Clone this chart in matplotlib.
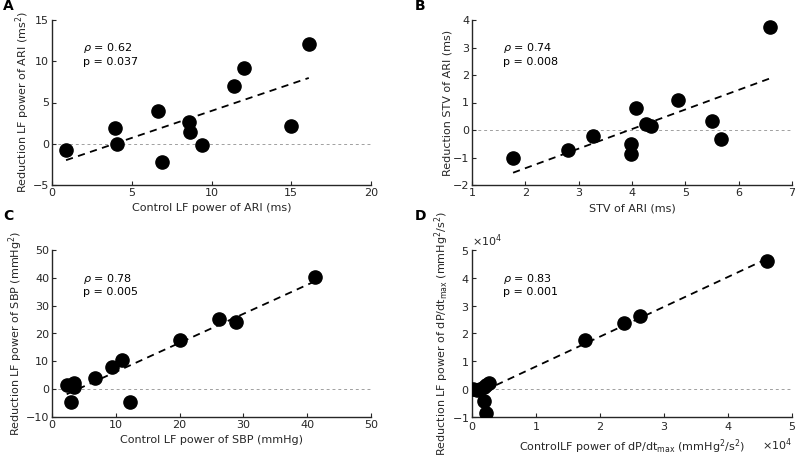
import numpy as np
import matplotlib
matplotlib.use("Agg")
import matplotlib.pyplot as plt
from matplotlib.ticker import ScalarFormatter

# panel A: control LF power of ARI vs reduction
a_x = [0.88, 3.97, 4.1, 6.65, 6.92, 8.6, 8.66, 9.41, 11.38, 12.05, 14.98, 16.1]
a_y = [-0.75, 1.86, -0.08, 4.0, -2.26, 2.6, 1.45, -0.16, 7.03, 9.2, 2.18, 12.04]

# panel B: STV of ARI vs reduction
b_x = [1.77, 2.80, 3.27, 3.99, 3.99, 4.07, 4.27, 4.36, 4.86, 5.50, 5.67, 6.58]
b_y = [-1.03, -0.74, -0.23, -0.50, -0.87, 0.79, 0.23, 0.16, 1.10, 0.33, -0.33, 3.73]

# panel C: LF power of SBP
c_x = [2.3, 2.93, 3.5, 3.5, 6.7, 9.4, 10.9, 12.3, 20.0, 26.2, 28.8, 41.2]
c_y = [1.44, -4.7, 2.3, 0.7, 3.96, 7.8, 10.3, -4.7, 17.6, 25.2, 24.1, 40.3]

# panel D: LF power of dP/dtmax
d_x = np.array([0.02, 0.08, 0.13, 0.18, 0.22, 0.27, 0.18, 0.22, 1.77, 2.37, 2.63, 4.61]) * 1e4
d_y = np.array([0.0, -0.02, 0.02, 0.08, 0.15, 0.22, -0.42, -0.85, 1.76, 2.36, 2.62, 4.59]) * 1e4

stats = [("0.62", "0.037"), ("0.74", "0.008"), ("0.78", "0.005"), ("0.83", "0.001")]
letters = ["A", "B", "C", "D"]

xlabels = ["Control LF power of ARI (ms)",
           "STV of ARI (ms)",
           "Control LF power of SBP (mmHg)",
           "ControlLF power of dP/dt$_{\\mathregular{max}}$ (mmHg$^{\\mathregular{2}}$/s$^{\\mathregular{2}}$)"]
ylabels = ["Reduction LF power of ARI (ms$^{\\mathregular{2}}$)",
           "Reduction STV of ARI (ms)",
           "Reduction LF power of SBP (mmHg$^{\\mathregular{2}}$)",
           "Reduction LF power of dP/dt$_{\\mathregular{max}}$ (mmHg$^{\\mathregular{2}}$/s$^{\\mathregular{2}}$)"]
xlims = [(0, 20), (1, 7), (0, 50), (0, 5e4)]
ylims = [(-5, 15), (-2, 4), (-10, 50), (-1e4, 5e4)]
xticks = [np.arange(0, 21, 5), np.arange(1, 8, 1), np.arange(0, 51, 10), np.arange(0, 5.1e4, 1e4)]
yticks = [np.arange(-5, 16, 5), np.arange(-2, 5, 1), np.arange(-10, 51, 10), np.arange(-1e4, 5.1e4, 1e4)]

plt.rcParams['font.family'] = 'DejaVu Sans'
plt.rcParams['font.size'] = 8
txt = '#262626'

fig = plt.figure(figsize=(7.95, 4.55), dpi=100)
W, H = 795.0, 455.0
boxes = [(52, 20, 371, 185), (472, 20, 792, 185), (52, 250, 371, 417), (472, 250, 792, 417)]
letter_pos = [(3, 6), (415, 6), (3, 216), (415, 216)]
data = [(a_x, a_y), (b_x, b_y), (c_x, c_y), (d_x, d_y)]

for i in range(4):
    l, t, r, b = boxes[i]
    ax = fig.add_axes([l / W, 1 - b / H, (r - l) / W, (b - t) / H])
    x, y = np.asarray(data[i][0]), np.asarray(data[i][1])
    ax.axhline(0, color='#a0a0a0', lw=0.7, ls=(0, (3, 3)), zorder=1)
    p = np.polyfit(x, y, 1)
    xx = np.array([x.min(), x.max()])
    ax.plot(xx, np.polyval(p, xx), color='black', lw=1.3, ls=(0, (4, 3)), zorder=2)
    ax.plot(x, y, 'o', color='black', markersize=9.5, zorder=3)
    ax.set_xlim(xlims[i])
    ax.set_ylim(ylims[i])
    ax.set_xticks(xticks[i])
    ax.set_yticks(yticks[i])
    ax.spines['top'].set_visible(False)
    ax.spines['right'].set_visible(False)
    for s in ['left', 'bottom']:
        ax.spines[s].set_color(txt)
        ax.spines[s].set_linewidth(1.0)
    ax.tick_params(direction='in', length=3, colors=txt, labelcolor=txt, pad=2)
    ax.set_xlabel(xlabels[i], color=txt, labelpad=4)
    ax.set_ylabel(ylabels[i], color=txt, labelpad=0.5)
    if i == 3:
        for axis in [ax.xaxis, ax.yaxis]:
            f = ScalarFormatter(useMathText=True)
            f.set_powerlimits((0, 0))
            axis.set_major_formatter(f)
        ax.yaxis.get_offset_text().set_color(txt)
        ax.xaxis.get_offset_text().set_color(txt)
    ax.text(0.097, 0.87, "$\\rho$ = %s\np = %s" % stats[i], transform=ax.transAxes,
            va='top', ha='left', color='black', linespacing=1.2)
    fig.text(letter_pos[i][0] / W, 1 - letter_pos[i][1] / H, letters[i],
             fontweight='bold', fontsize=10, va='center', ha='left')

fig.savefig("out.png", dpi=100)
